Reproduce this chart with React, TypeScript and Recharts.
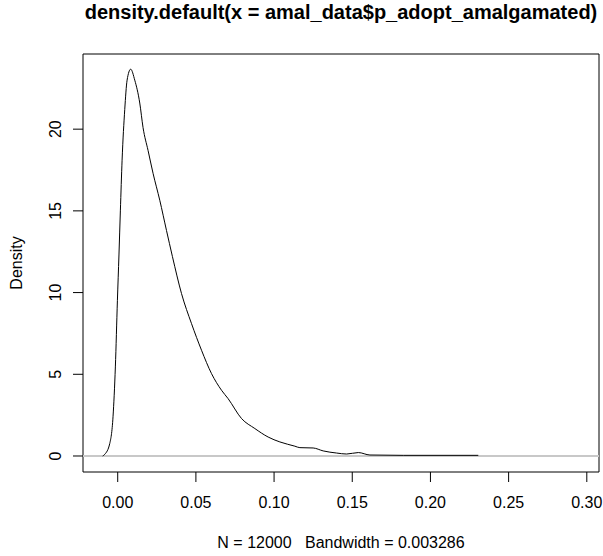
import { LineChart, Line, XAxis, YAxis, ReferenceLine, ReferenceArea } from "recharts"

// density estimate
const xValues = [
  -0.0096, -0.0083, -0.0051, -0.003, -0.0015, -0.0002, 0.0008, 0.0017, 0.0028, 0.0045,
  0.006, 0.0083, 0.0109, 0.0141, 0.0162, 0.0194, 0.0226, 0.0269, 0.0312, 0.035,
  0.0408, 0.0472, 0.0536, 0.06, 0.0664, 0.0706, 0.0792, 0.0877, 0.0962, 0.1037,
  0.1133, 0.1165, 0.125, 0.1314, 0.14, 0.1464, 0.1539, 0.1613, 0.1826, 0.2306,
]
const densityValues = [
  0, 0.1, 0.76, 2.4, 5.45, 9.5, 12.3, 15.0, 18.1, 21.2,
  23.0, 23.67, 23.0, 21.6, 20.1, 18.7, 17.3, 15.65, 13.8, 12.2,
  9.94, 8.1, 6.47, 5.04, 4.02, 3.51, 2.29, 1.68, 1.16, 0.86,
  0.6, 0.51, 0.49, 0.31, 0.18, 0.12, 0.21, 0.06, 0.04, 0.04,
]
const xTicks = [0, 0.05, 0.1, 0.15, 0.2, 0.25, 0.3]
const yTicks = [0, 5, 10, 15, 20]

const XMIN = -0.0222
const XMAX = 0.3078
const YMIN = -0.98
const YMAX = 24.6

const data = xValues.map((x, i) => ({ x, density: densityValues[i] }))

const FONT = "'Liberation Sans', Arial, sans-serif"

const YTick = (props: any) => {
  const { x, y, payload } = props
  return (
    <text
      x={x}
      y={y}
      transform={`rotate(-90 ${x} ${y})`}
      textAnchor="middle"
      fontSize={16}
      fontFamily={FONT}
      fill="#000"
    >
      {payload.value}
    </text>
  )
}

export default function App() {
  return (
    <div style={{ position: "absolute", left: 0, top: 0, width: 603, height: 556, background: "#fff" }}>
      <LineChart
        width={603}
        height={556}
        data={data}
        margin={{ top: 54, right: 4, bottom: 44, left: 23 }}
      >
        <XAxis
          dataKey="x"
          type="number"
          domain={[XMIN, XMAX]}
          allowDataOverflow
          ticks={xTicks}
          tickFormatter={(v: number) => v.toFixed(2)}
          axisLine={false}
          tickLine={{ stroke: "#000" }}
          tickSize={10}
          tickMargin={15}
          height={40}
          tick={{ fontSize: 16, fontFamily: FONT, fill: "#000" }}
        />
        <YAxis
          type="number"
          domain={[YMIN, YMAX]}
          allowDataOverflow
          ticks={yTicks}
          axisLine={false}
          tickLine={{ stroke: "#000" }}
          tickSize={10}
          tickMargin={12}
          width={60}
          tick={<YTick />}
        />
        <ReferenceLine y={0} stroke="#c8c8c8" strokeWidth={2} />
        <Line
          type="monotone"
          dataKey="density"
          stroke="#000"
          strokeWidth={1}
          dot={false}
          isAnimationActive={false}
        />
        <ReferenceArea x1={XMIN} x2={XMAX} y1={YMIN} y2={YMAX} fill="none" stroke="#000" strokeWidth={1} />
      </LineChart>
      <svg
        width={603}
        height={556}
        style={{ position: "absolute", left: 0, top: 0, pointerEvents: "none" }}
      >
        <text x={341} y={19} textAnchor="middle" fontSize={20} fontWeight="bold" fontFamily={FONT} fill="#000">
          density.default(x = amal_data$p_adopt_amalgamated)
        </text>
        <text
          x={21.5}
          y={263}
          transform="rotate(-90 21.5 263)"
          textAnchor="middle"
          fontSize={16}
          fontFamily={FONT}
          fill="#000"
        >
          Density
        </text>
        <text
          x={341}
          y={547.5}
          textAnchor="middle"
          fontSize={16}
          fontFamily={FONT}
          fill="#000"
          style={{ whiteSpace: "pre" }}
        >
          {"N = 12000   Bandwidth = 0.003286"}
        </text>
      </svg>
    </div>
  )
}
